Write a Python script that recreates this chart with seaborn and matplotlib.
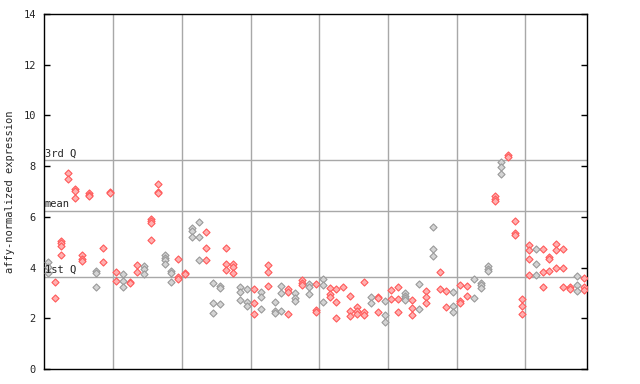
import numpy as np
import pandas as pd
import seaborn as sns
import matplotlib
matplotlib.use("Agg")
import matplotlib.pyplot as plt

# expression values per sample (replicates)
valores = [
    [4.22, 4.01, 3.80], [3.42, 2.81], [5.06, 4.96, 4.85, 4.48], [7.74, 7.51],
    [7.08, 7.03, 6.73], [4.48, 4.32, 4.27], [6.95, 6.88, 6.82], [3.88, 3.80, 3.23],
    [4.76, 4.22], [6.99, 6.93], [3.81, 3.46], [3.73, 3.46, 3.23],
    [3.44, 3.38], [4.10, 3.81], [4.06, 3.96, 3.73], [5.93, 5.82, 5.74, 5.09],
    [7.29, 7.00, 6.93], [4.50, 4.39, 4.30, 4.13], [3.85, 3.77, 3.42], [4.34, 3.64, 3.56],
    [3.80, 3.73], [5.55, 5.45, 5.19], [5.80, 5.19, 4.30], [5.39, 4.76, 4.30],
    [3.38, 2.59, 2.20], [3.29, 3.19, 2.55], [4.76, 4.13, 3.89], [4.13, 4.03, 3.77],
    [3.25, 3.04, 2.71], [3.14, 2.63, 2.48], [3.14, 2.59, 2.17], [3.04, 2.85, 2.37],
    [4.10, 3.81, 3.27], [2.63, 2.27, 2.20], [3.27, 3.01, 2.27], [3.15, 3.05, 2.17],
    [3.01, 2.80, 2.69], [3.50, 3.40, 3.30], [3.34, 3.25, 2.94], [3.34, 2.33, 2.23],
    [3.54, 3.30, 2.63], [3.19, 2.94, 2.85], [3.15, 2.63, 2.01], [3.25],
    [2.88, 2.29, 2.09], [2.45, 2.30, 2.15], [3.42, 2.25, 2.14], [2.85, 2.59],
    [2.85, 2.80, 2.24], [2.67, 2.12, 1.84], [3.13, 2.75], [3.22, 2.75, 2.24],
    [2.98, 2.89, 2.80, 2.71], [2.71, 2.39, 2.12], [3.34, 2.35], [3.06, 2.83, 2.59],
    [5.59, 4.72, 4.44], [3.81, 3.15], [3.06, 2.46], [3.02, 2.48, 2.23],
    [3.30, 2.70, 2.59], [3.29, 2.87], [3.54, 2.79], [3.40, 3.30, 3.19],
    [4.06, 3.96, 3.87], [6.82, 6.72, 6.61], [8.15, 7.97, 7.68], [8.42, 8.37],
    [5.84, 5.38, 5.30], [2.75, 2.48, 2.17], [4.88, 4.69, 4.34, 3.69], [4.73, 4.13, 3.69],
    [4.73, 3.81, 3.23], [4.40, 4.32, 3.85], [4.92, 4.69, 3.97], [4.73, 3.97, 3.23],
    [3.23, 3.14], [3.65, 3.30, 3.06], [3.58, 3.23, 3.11],
]

# r = red sample, g = grey sample
serie = list(
    "grrrrrrgrr"
    "rgrrgrrggr"
    "rggrggrrgg"
    "rgrggrgrgr"
    "grrrrrrgrg"
    "rrgrgrgrrg"
    "rrgggrgrrr"
    "rgrrrrrgr"
)

cuartil_1 = 3.63
media = 6.22
cuartil_3 = 8.23
separadores = [10.5, 20.5, 30.5, 40.5, 50.5, 60.5, 70.5]

filas = []
for i, vals in enumerate(valores):
    for v in vals:
        filas.append({"muestra": i + 1, "expresion": v, "serie": serie[i]})
df = pd.DataFrame(filas)

sns.set_style("white")
plt.rcParams["font.family"] = ["DejaVu Sans Mono"]

fig = plt.figure(figsize=(6.4, 3.84), dpi=100)
ax = fig.add_axes([44.3 / 640, 1 - 369 / 384, 543 / 640, 355 / 384])

for x in separadores:
    ax.axvline(x, color="#a8a8a8", lw=1, zorder=1)
for y in [cuartil_1, media, cuartil_3]:
    ax.axhline(y, color="#a8a8a8", lw=1, zorder=1)

# diamantes claros con borde mas oscuro
for clave, borde, relleno in [("r", "#ff5a5a", "#ffb0b0"), ("g", "#9a9a9a", "#d4d4d4")]:
    sub = df[df["serie"] == clave]
    sns.scatterplot(data=sub, x="muestra", y="expresion", marker="D", s=13,
                    color=relleno, edgecolor=borde, linewidth=0.8,
                    legend=False, ax=ax, zorder=3)

ax.text(0.6, cuartil_3 + 0.08, "3rd Q", fontsize=7.5, va="bottom", ha="left")
ax.text(0.6, media + 0.08, "mean", fontsize=7.5, va="bottom", ha="left")
ax.text(0.6, cuartil_1 + 0.08, "1st Q", fontsize=7.5, va="bottom", ha="left")

ax.set_xlim(0.5, 79.5)
ax.set_ylim(0, 14)
ax.set_yticks(range(0, 15, 2))
ax.set_xticks([])
ax.tick_params(axis="y", direction="in", length=4, width=1, labelsize=7.5,
               right=True, left=True, pad=6, color="black")
for s in ax.spines.values():
    s.set_color("black")
    s.set_linewidth(1)
ax.set_xlabel("")
ax.set_ylabel("affy-normalized expression", fontsize=7.5, labelpad=6)

fig.savefig("out.png", dpi=100)
